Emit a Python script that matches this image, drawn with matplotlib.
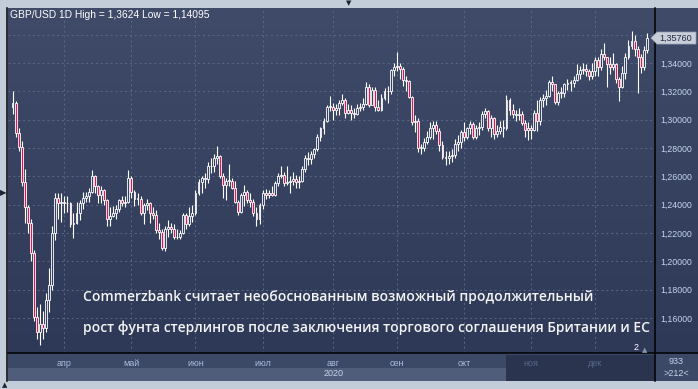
import numpy as np
import pandas as pd
import matplotlib
matplotlib.use("Agg")
import matplotlib.pyplot as plt
from matplotlib.colors import LinearSegmentedColormap
from matplotlib.patches import Rectangle, Polygon
from matplotlib.lines import Line2D
from matplotlib.ticker import FuncFormatter

W, H = 698, 389

# GBP/USD daily bars, 9 Mar - 24 Dec 2020
dates = pd.bdate_range("2020-03-09", "2020-12-24")
first_open = 1.3090

close_mar = [1.3120, 1.2906, 1.2807, 1.2560, 1.2380, 1.2270, 1.2059, 1.1610, 1.1500, 1.1560,
             1.1530, 1.1730, 1.1830, 1.2200, 1.2450, 1.2410, 1.2420]
high_mar = [1.3202, 1.3130, 1.2940, 1.2850, 1.2650, 1.2400, 1.2300, 1.2080, 1.1680, 1.1700,
            1.1650, 1.1780, 1.1950, 1.2250, 1.2480, 1.2480, 1.2480]
low_mar = [1.3040, 1.2878, 1.2780, 1.2530, 1.2270, 1.2200, 1.2000, 1.1580, 1.1450, 1.1410,
           1.1450, 1.1500, 1.1640, 1.1800, 1.2150, 1.2300, 1.2280]

close_apr = [1.2410, 1.2410, 1.2260, 1.2270, 1.2340, 1.2410, 1.2450, 1.2460, 1.2490, 1.2600, 1.2530,
             1.2470, 1.2500, 1.2430, 1.2300, 1.2320, 1.2340, 1.2370, 1.2430, 1.2410, 1.2420, 1.2590]
high_apr = [1.2460, 1.2460, 1.2420, 1.2340, 1.2420, 1.2430, 1.2490, 1.2490, 1.2520, 1.2645, 1.2610,
            1.2540, 1.2530, 1.2510, 1.2440, 1.2380, 1.2390, 1.2400, 1.2440, 1.2460, 1.2460, 1.2645]
low_apr = [1.2340, 1.2350, 1.2240, 1.2165, 1.2260, 1.2290, 1.2370, 1.2420, 1.2420, 1.2480, 1.2480,
           1.2410, 1.2410, 1.2400, 1.2250, 1.2250, 1.2310, 1.2300, 1.2350, 1.2390, 1.2380, 1.2410]

close_may = [1.2490, 1.2440, 1.2440, 1.2340, 1.2400, 1.2410, 1.2340, 1.2330, 1.2220, 1.2210, 1.2095,
             1.2230, 1.2240, 1.2230, 1.2170, 1.2170, 1.2200, 1.2330, 1.2260, 1.2320, 1.2340]
high_may = [1.2600, 1.2500, 1.2480, 1.2460, 1.2410, 1.2440, 1.2420, 1.2380, 1.2360, 1.2270, 1.2230,
            1.2250, 1.2290, 1.2270, 1.2260, 1.2230, 1.2220, 1.2340, 1.2340, 1.2380, 1.2400]
low_may = [1.2450, 1.2390, 1.2400, 1.2330, 1.2260, 1.2360, 1.2270, 1.2300, 1.2200, 1.2160, 1.2080,
           1.2076, 1.2170, 1.2200, 1.2160, 1.2160, 1.2160, 1.2190, 1.2230, 1.2250, 1.2280]

close_jun = [1.2485, 1.2560, 1.2590, 1.2580, 1.2670, 1.2670, 1.2730, 1.2740, 1.2600, 1.2540, 1.2570,
             1.2570, 1.2520, 1.2420, 1.2350, 1.2470, 1.2490, 1.2430, 1.2420, 1.2340, 1.2300, 1.2400]
high_jun = [1.2500, 1.2580, 1.2600, 1.2620, 1.2700, 1.2730, 1.2760, 1.2812, 1.2750, 1.2620, 1.2590,
            1.2690, 1.2590, 1.2570, 1.2430, 1.2480, 1.2540, 1.2500, 1.2480, 1.2440, 1.2380, 1.2410]
low_jun = [1.2330, 1.2470, 1.2480, 1.2520, 1.2550, 1.2620, 1.2630, 1.2690, 1.2590, 1.2450, 1.2430,
           1.2530, 1.2510, 1.2410, 1.2330, 1.2340, 1.2390, 1.2410, 1.2380, 1.2320, 1.2250, 1.2260]

close_jul = [1.2480, 1.2470, 1.2480, 1.2470, 1.2550, 1.2600, 1.2610, 1.2550, 1.2560, 1.2570, 1.2580, 1.2560,
             1.2570, 1.2650, 1.2730, 1.2720, 1.2760, 1.2790, 1.2880, 1.2940, 1.2990, 1.3090, 1.3090]
high_jul = [1.2500, 1.2510, 1.2500, 1.2530, 1.2570, 1.2620, 1.2670, 1.2630, 1.2670, 1.2600, 1.2630, 1.2610,
            1.2600, 1.2670, 1.2750, 1.2770, 1.2780, 1.2800, 1.2900, 1.2950, 1.3010, 1.3100, 1.3170]
low_jul = [1.2370, 1.2440, 1.2450, 1.2460, 1.2460, 1.2530, 1.2590, 1.2530, 1.2540, 1.2480, 1.2540, 1.2520,
           1.2520, 1.2560, 1.2630, 1.2680, 1.2690, 1.2730, 1.2780, 1.2850, 1.2900, 1.2980, 1.3060]

close_aug = [1.3070, 1.3080, 1.3120, 1.3140, 1.3050, 1.3070, 1.3050, 1.3040, 1.3080, 1.3090, 1.3110,
             1.3230, 1.3100, 1.3210, 1.3090, 1.3070, 1.3150, 1.3200, 1.3200, 1.3350, 1.3370]
high_aug = [1.3120, 1.3110, 1.3140, 1.3180, 1.3150, 1.3110, 1.3100, 1.3080, 1.3110, 1.3120, 1.3150,
            1.3267, 1.3250, 1.3230, 1.3230, 1.3140, 1.3180, 1.3220, 1.3240, 1.3360, 1.3400]
low_aug = [1.3000, 1.3030, 1.3030, 1.3100, 1.3010, 1.3040, 1.3000, 1.3010, 1.3030, 1.3060, 1.3070,
           1.3100, 1.3090, 1.3100, 1.3060, 1.3060, 1.3060, 1.3140, 1.3120, 1.3180, 1.3310]

close_sep = [1.3380, 1.3360, 1.3280, 1.3270, 1.3160, 1.2980, 1.2990, 1.2800, 1.2800, 1.2840, 1.2880,
             1.2940, 1.2960, 1.2920, 1.2820, 1.2735, 1.2730, 1.2740, 1.2750, 1.2830, 1.2840, 1.2910]
high_sep = [1.3478, 1.3400, 1.3370, 1.3310, 1.3280, 1.3170, 1.3030, 1.3010, 1.2830, 1.2870, 1.2920,
            1.2980, 1.2990, 1.2990, 1.2940, 1.2850, 1.2780, 1.2780, 1.2790, 1.2860, 1.2890, 1.2930]
low_sep = [1.3340, 1.3290, 1.3240, 1.3200, 1.3150, 1.2960, 1.2910, 1.2770, 1.2760, 1.2780, 1.2830,
           1.2860, 1.2860, 1.2900, 1.2780, 1.2720, 1.2680, 1.2690, 1.2700, 1.2730, 1.2780, 1.2800]

close_oct = [1.2880, 1.2940, 1.2970, 1.2880, 1.2940, 1.2950, 1.3040, 1.3060, 1.2940, 1.3010, 1.2900,
             1.2920, 1.2950, 1.2940, 1.3140, 1.3070, 1.3040, 1.3030, 1.3040, 1.2975, 1.2930, 1.2940]
high_oct = [1.2980, 1.2950, 1.2990, 1.2980, 1.2960, 1.2980, 1.3060, 1.3080, 1.3070, 1.3030, 1.3020,
            1.2960, 1.2990, 1.3000, 1.3177, 1.3150, 1.3110, 1.3070, 1.3080, 1.3060, 1.3000, 1.2980]
low_oct = [1.2850, 1.2860, 1.2900, 1.2860, 1.2860, 1.2890, 1.2930, 1.3010, 1.2920, 1.2880, 1.2860,
           1.2880, 1.2900, 1.2880, 1.2930, 1.3030, 1.3010, 1.2990, 1.3000, 1.2960, 1.2880, 1.2855]

close_nov = [1.2930, 1.3050, 1.2990, 1.3140, 1.3150, 1.3170, 1.3265, 1.3250, 1.3125, 1.3190, 1.3190,
             1.3250, 1.3260, 1.3260, 1.3280, 1.3320, 1.3350, 1.3360, 1.3340, 1.3310, 1.3340]
high_nov = [1.2960, 1.3070, 1.3140, 1.3160, 1.3180, 1.3210, 1.3280, 1.3310, 1.3250, 1.3200, 1.3230,
            1.3260, 1.3290, 1.3280, 1.3310, 1.3390, 1.3380, 1.3400, 1.3390, 1.3360, 1.3400]
low_nov = [1.2860, 1.2920, 1.2920, 1.2960, 1.3090, 1.3100, 1.3160, 1.3200, 1.3110, 1.3100, 1.3150,
           1.3160, 1.3210, 1.3200, 1.3230, 1.3270, 1.3290, 1.3320, 1.3310, 1.3280, 1.3290]

close_dec = [1.3420, 1.3370, 1.3460, 1.3440, 1.3390, 1.3370, 1.3390, 1.3290, 1.3230, 1.3330, 1.3440,
             1.3520, 1.3555, 1.3500, 1.3440, 1.3370, 1.3490, 1.3576]
high_dec = [1.3440, 1.3440, 1.3500, 1.3540, 1.3440, 1.3440, 1.3470, 1.3400, 1.3300, 1.3380, 1.3470,
            1.3560, 1.3624, 1.3600, 1.3520, 1.3460, 1.3520, 1.3615]
low_dec = [1.3310, 1.3310, 1.3350, 1.3420, 1.3230, 1.3320, 1.3350, 1.3260, 1.3135, 1.3220, 1.3290,
           1.3430, 1.3500, 1.3450, 1.3188, 1.3330, 1.3350, 1.3470]

close = np.array(close_mar + close_apr + close_may + close_jun + close_jul + close_aug
                 + close_sep + close_oct + close_nov + close_dec)
high = np.array(high_mar + high_apr + high_may + high_jun + high_jul + high_aug
                + high_sep + high_oct + high_nov + high_dec)
low = np.array(low_mar + low_apr + low_may + low_jun + low_jul + low_aug
               + low_sep + low_oct + low_nov + low_dec)
assert len(close) == len(high) == len(low) == len(dates)
# fx bars open where the previous bar closed
opn = np.concatenate([[first_open], close[:-1]])

month_names = ["апр", "май", "июн", "июл", "авг", "сен", "окт", "ноя", "дек"]
month_nums = [4, 5, 6, 7, 8, 9, 10, 11, 12]
price_ticks = [1.16, 1.18, 1.20, 1.22, 1.24, 1.26, 1.28, 1.30, 1.32, 1.34]
grid_top = 1.36  # its label sits under the last-price marker

title = "GBP/USD 1D High = 1,3624 Low = 1,14095"
line1 = "Commerzbank считает необоснованным возможный продолжительный"
line2 = "рост фунта стерлингов после заключения торгового соглашения Британии и ЕС"


def fx(x):
    return x / W


def fy(y):
    return 1 - y / H


fig = plt.figure(figsize=(W / 100, H / 100), dpi=100, facecolor="#c3ccd9")
bg = LinearSegmentedColormap.from_list("bg", ["#2e3957", "#3f4b68"])
grad = np.linspace(0, 1, 256).reshape(-1, 1)

# right price panel
side = fig.add_axes([fx(655), fy(353), (698 - 655) / W, (353 - 8) / H])
side.imshow(grad, cmap=bg, origin="lower", extent=(0, 1, 0, 1), aspect="auto")
side.set_axis_off()
side.set_zorder(-1)

# bottom strips
for x0, y0, w, h, c in [(8, 353, 647, 15, "#3b4866"), (8, 368, 647, 13, "#4f5d7b"),
                        (506, 355, 149, 26, "#2a344e"), (655, 353, 43, 28, "#3b4866")]:
    fig.patches.append(Rectangle((fx(x0), fy(y0 + h)), w / W, h / H, transform=fig.transFigure,
                                 facecolor=c, edgecolor="none", zorder=-2))

ax = fig.add_axes([fx(8), fy(353), (655 - 8) / W, (353 - 8) / H])
ax.imshow(grad, cmap=bg, origin="lower", extent=(0, 1, 0, 1), transform=ax.transAxes,
          aspect="auto", zorder=0)

idx = np.arange(len(close))
up = close >= opn
body_lo = np.minimum(opn, close)
body_h = np.maximum(np.abs(close - opn), 0.0004)
ax.vlines(idx, low, high, color="white", linewidth=0.8, zorder=2)
ax.bar(idx, body_h, bottom=body_lo, width=0.62, color=np.where(up, "#36425f", "#e3174d"),
       edgecolor="white", linewidth=0.6, zorder=3)

ax.set_xlim(-1.48, 210.7)
ax.set_ylim(1.1353, 1.3788)
for s in ax.spines.values():
    s.set_visible(False)

month_idx = [int(np.argmax(dates.month == m)) for m in month_nums]
ax.set_xticks(month_idx, labels=month_names)
ax.set_yticks(price_ticks)
ax.set_yticks([grid_top], minor=True)
ax.yaxis.tick_right()
ax.yaxis.set_major_formatter(FuncFormatter(lambda v, p: f"{v:.5f}".replace(".", ",")))
ax.tick_params(axis="y", which="both", length=0, pad=4, labelsize=6.3, labelcolor="#c5d5ee")
ax.tick_params(axis="x", length=0, pad=4, labelsize=6.5, labelcolor="#a9bde0")
for lab in ax.get_yticklabels() + ax.get_xticklabels():
    lab.set_family("Liberation Sans")
for lab in ax.get_xticklabels()[-2:]:
    lab.set_color("#56658a")
ax.grid(True, which="both", color="#5a6885", linestyle=(0, (2, 3)), linewidth=0.7, zorder=1)

# frame lines
for xs, ys in [((7.5, 7.5), (8, 381)), ((655, 655), (8, 381)), ((8, 698), (353, 353))]:
    fig.add_artist(Line2D([fx(v) for v in xs], [fy(v) for v in ys], color="black",
                          linewidth=1.1, transform=fig.transFigure))

fig.text(fx(10), fy(15), title, color="white", fontsize=7.4, family="Liberation Sans", va="center")
fig.text(fx(334), fy(374), "2020", color="#c8d4ea", fontsize=6.5, family="Liberation Sans",
         ha="center", va="center")
fig.text(fx(676), fy(361), "933", color="#c8d4ea", fontsize=6.5, family="Liberation Sans",
         ha="center", va="center")
fig.text(fx(676), fy(373), ">212<", color="#c8d4ea", fontsize=6.5, family="Liberation Sans",
         ha="center", va="center")
fig.text(fx(636), fy(348), "2", color="white", fontsize=6.5, family="Liberation Sans",
         ha="center", va="center")
fig.text(fx(645), fy(350), "▲", color="#8a93a8", fontsize=5, ha="center", va="center")
fig.text(fx(3), fy(193), "▶", color="#1c2234", fontsize=6, ha="center", va="center")
fig.text(fx(349), fy(3), "▼", color="#1c2234", fontsize=5, ha="center", va="center")
fig.text(fx(5), fy(385), "▲", color="#1c2234", fontsize=5, ha="center", va="center")

# last price marker
fig.canvas.draw()
ylast = ax.transData.transform((0, close[-1]))[1] / H
fig.patches.append(Polygon([(fx(651), ylast), (fx(657), ylast + 6 / H), (fx(696), ylast + 6 / H),
                            (fx(696), ylast - 6 / H), (fx(657), ylast - 6 / H)],
                           closed=True, transform=fig.transFigure, facecolor="#c9ced8",
                           edgecolor="#9aa3b5", linewidth=0.5, zorder=5))
fig.text(fx(676), ylast, f"{close[-1]:.5f}".replace(".", ","), color="#1f2a44", fontsize=6.5,
         family="Liberation Sans", ha="center", va="center", zorder=6)

t1 = fig.text(fx(83), fy(297), line1, color="#f4f4f4", fontsize=10, family="Open Sans",
              weight="semibold", va="center", zorder=10)
t2 = fig.text(fx(83), fy(328), line2, color="#f4f4f4", fontsize=10, family="Open Sans",
              weight="semibold", va="center", zorder=10)
fig.canvas.draw()
r = fig.canvas.get_renderer()
scale = 565 / t2.get_window_extent(r).width
t1.set_fontsize(10 * scale)
t2.set_fontsize(10 * scale)

fig.savefig("out.png", dpi=100, facecolor=fig.get_facecolor())
